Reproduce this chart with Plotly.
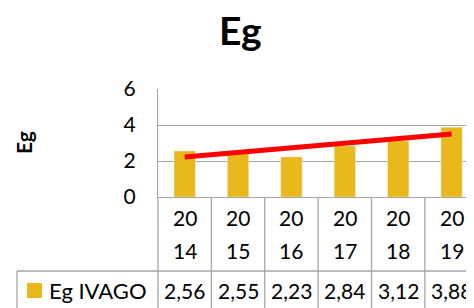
import numpy as np
import plotly.graph_objects as go

years = ["2014", "2015", "2016", "2017", "2018", "2019"]
eg_ivago = [2.56, 2.55, 2.23, 2.84, 3.12, 3.88]
series_name = "Eg IVAGO"
y_ticks = [0, 2, 4, 6]

BAR = "#E9B81B"
GRID = "#A6A6A6"
FONT = "Lato"
OFF = 8                          # page body margin
W, H = 474 - OFF, 308 - OFF
L = 158 - OFF
T = 89 - OFF
B = H - (197 - OFF)
PW, PH = W - L, H - T - B
XR = [-0.5, 5.42]

idx = np.arange(len(years))
slope, inter = np.polyfit(idx, eg_ivago, 1)
trend = inter + slope * idx

def xp(v):   # category coordinate -> paper
    return (v - XR[0]) / (XR[1] - XR[0])
def px2x(px):   # window px -> paper
    return (px - OFF - L) / PW
def py2y(py):
    return (H - B - (py - OFF)) / PH

fig = go.Figure()
fig.add_trace(go.Bar(x=idx, y=eg_ivago, marker_color=BAR, width=0.4,
                     name=series_name, hoverinfo="skip"))
fig.add_trace(go.Scatter(x=[idx[0], idx[-1]], y=[trend[0], trend[-1]], mode="lines",
                         line=dict(color="#FF0000", width=5), hoverinfo="skip"))

shapes = []
row1, row2 = py2y(271), py2y(330)
for i in range(len(years) + 1):
    xv = xp(i - 0.5)
    if xv <= 1.02:
        shapes.append(dict(type="line", xref="paper", yref="paper", x0=xv, x1=xv,
                           y0=0, y1=row2, line=dict(color=GRID, width=1.3)))
shapes.append(dict(type="line", xref="paper", yref="paper", x0=px2x(17), x1=1.05,
                   y0=row1, y1=row1, line=dict(color=GRID, width=1.3)))
shapes.append(dict(type="line", xref="paper", yref="paper", x0=px2x(17), x1=px2x(17),
                   y0=row1, y1=row2, line=dict(color=GRID, width=1.3)))
shapes.append(dict(type="rect", xref="paper", yref="paper", x0=px2x(27), x1=px2x(42),
                   y0=py2y(298), y1=py2y(283), fillcolor=BAR, line=dict(width=0)))

ann = []
tf = dict(family=FONT, size=21, color="#000")
for i, yr in enumerate(years):
    ann.append(dict(x=i, xref="x", y=py2y(217), yref="paper", text=yr[:2], showarrow=False,
                    font=tf, xanchor="center", yanchor="middle"))
    ann.append(dict(x=i, xref="x", y=py2y(250), yref="paper", text=yr[2:], showarrow=False,
                    font=tf, xanchor="center", yanchor="middle"))
    ann.append(dict(x=i, xref="x", y=py2y(290), yref="paper",
                    text=f"{eg_ivago[i]:.2f}".replace(".", ","), showarrow=False,
                    font=tf, xanchor="center", yanchor="middle"))
ann.append(dict(x=px2x(47), xref="paper", y=py2y(290), yref="paper", text=series_name,
                showarrow=False, font=dict(family=FONT, size=22, color="#000"),
                xanchor="left", yanchor="middle"))
ann.append(dict(x=px2x(23), xref="paper", y=py2y(143), yref="paper", text="<b>Eg</b>",
                showarrow=False, textangle=-90, font=tf,
                xanchor="center", yanchor="middle"))
ann.append(dict(x=px2x(240), xref="paper", y=py2y(30), yref="paper", text="<b>Eg</b>",
                showarrow=False, font=dict(family=FONT, size=39, color="#000"),
                xanchor="center", yanchor="middle"))

fig.update_layout(
    width=W, height=H, margin=dict(l=L, r=0, t=T, b=B, pad=0),
    paper_bgcolor="white", plot_bgcolor="white", showlegend=False,
    shapes=shapes, annotations=ann,
    xaxis=dict(range=XR, showticklabels=False, showgrid=False, zeroline=False,
               showline=True, linecolor=GRID, linewidth=1.3, ticks=""),
    yaxis=dict(range=[0, 6], tickvals=y_ticks, showgrid=True, gridcolor=GRID, gridwidth=1.3,
               zeroline=False, showline=True, linecolor=GRID, linewidth=1.3, ticks="",
               tickfont=tf, ticklabelstandoff=17),
)
fig.write_html("out.html")
